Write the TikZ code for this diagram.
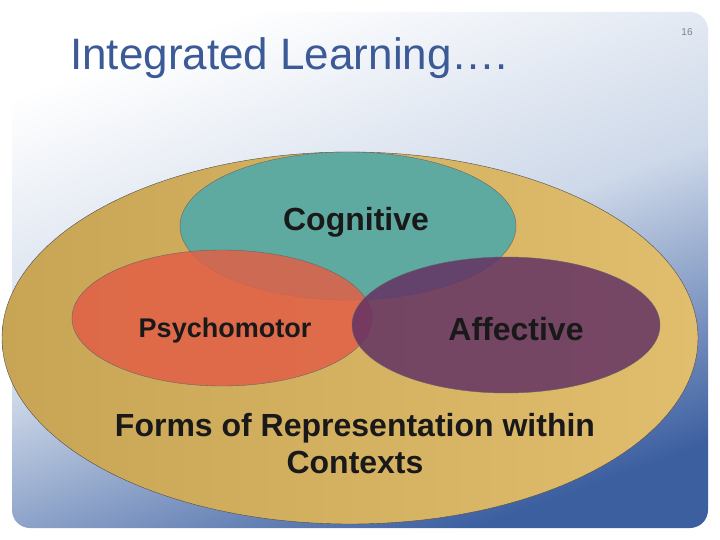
\documentclass[tikz,border=0pt]{standalone}
\usepackage{fontspec}
\setmainfont{Liberation Sans}
\begin{document}
\begin{tikzpicture}[x=1pt,y=-1pt,
  lbl/.style={font=\fontsize{#1}{#1}\selectfont\bfseries, text=black!90},
  lbl/.default=32]
\useasboundingbox (0,0) rectangle (720,540);
\fill[white] (0,0) rectangle (720,540);
\shade[rounded corners=18pt, top color=white, bottom color={rgb,255:red,60;green,95;blue,160}, middle color={rgb,255:red,205;green,216;blue,233}, shading angle=20]
  (12,12) rectangle (708,528);
\node[anchor=base west, inner sep=0pt, text={rgb,255:red,59;green,90;blue,150}, font=\fontsize{44}{44}\selectfont] (title) at (70,70) {Integrated Learning\dots.};
\node[text=gray, font=\fontsize{10}{10}\selectfont] (num) at (687,32) {16};
\shade[draw=black!70, left color={rgb,255:red,200;green,165;blue,85}, right color={rgb,255:red,225;green,190;blue,110}] (350,338) ellipse [x radius=348, y radius=186];
\fill[draw=black!60, fill={rgb,255:red,95;green,170;blue,160}] (348,226) ellipse [x radius=168, y radius=74];
\fill[draw=black!60, fill={rgb,255:red,225;green,95;blue,70}, fill opacity=0.85] (222,318) ellipse [x radius=150, y radius=68];
\fill[draw=black!60, fill={rgb,255:red,100;green,50;blue,100}, fill opacity=0.85] (506,325) ellipse [x radius=154, y radius=68];
\node[lbl, anchor=base] (cog) at (356,230) {Cognitive};
\node[lbl=27, anchor=base] (psy) at (225,337) {Psychomotor};
\node[lbl, anchor=base] (aff) at (516,340) {Affective};
\node[lbl, anchor=base] (forms) at (355,436) {Forms of Representation within};
\node[lbl, anchor=base] (ctx) at (355,473) {Contexts};
\end{tikzpicture}
\end{document}
